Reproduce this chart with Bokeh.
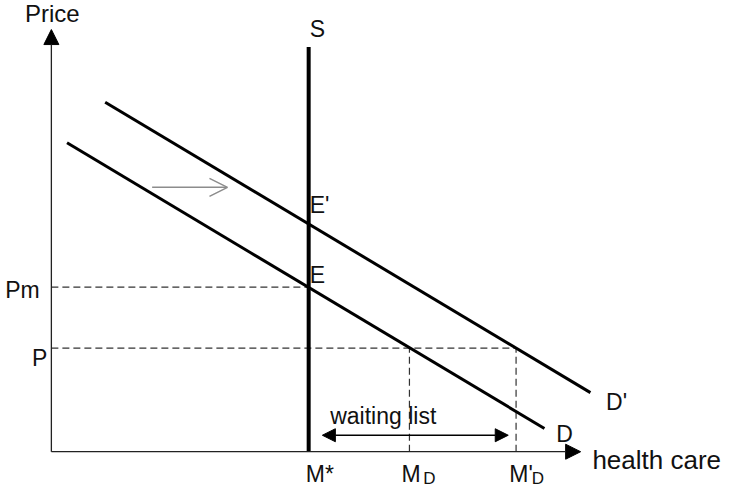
from bokeh.plotting import figure
from bokeh.models import Range1d, Arrow, NormalHead, OpenHead, Label
from bokeh.embed import file_html
from bokeh.resources import INLINE

# ---- data (quantity of health care, price) ----
demand_q = [16, 504]
demand_p = [319, 24]
demand2_q = [55, 551]
demand2_p = [361, 61]
supply_q = 263
supply_top = 418
price_pm = 170
price_p = 107
m_d = 366
m_d2 = 475
axis_q_max = 541
axis_p_max = 436
shift_q = [103, 180]
shift_p = 273
wait_q = [277, 467]
wait_p = 17

# price at E' (D' meets S)
slope2 = (demand2_p[1] - demand2_p[0]) / (demand2_q[1] - demand2_q[0])
price_e2 = demand2_p[0] + slope2 * (supply_q - demand2_q[0])

FONT = "Liberation Sans"
FS = "23px"
LIFT = 8  # baseline correction

p = figure(width=722, height=488, x_range=Range1d(-52, 686), y_range=Range1d(-38, 466),
           output_backend="svg", toolbar_location=None, min_border=0,
           x_axis_type=None, y_axis_type=None)
p.grid.visible = False
p.outline_line_color = None
p.background_fill_color = "white"
p.border_fill_color = "white"

# dashed guide lines
dash = dict(line_color="#333333", line_width=1.2, line_dash="7 4")
p.line([0, supply_q], [price_pm, price_pm], **dash)
p.line([0, m_d2], [price_p, price_p], **dash)
p.line([m_d, m_d], [0, price_p], **dash)
p.line([m_d2, m_d2], [0, price_p], **dash)

# demand curves and supply
p.line(demand_q, demand_p, line_color="black", line_width=3)
p.line(demand2_q, demand2_p, line_color="black", line_width=3)
p.line([supply_q, supply_q], [0, supply_top], line_color="black", line_width=4)

# axes
p.add_layout(Arrow(x_start=0, y_start=0, x_end=0, y_end=axis_p_max,
                   line_color="#222222", line_width=1.3,
                   end=NormalHead(size=15, fill_color="black", line_color="black")))
p.add_layout(Arrow(x_start=0, y_start=0, x_end=axis_q_max, y_end=0,
                   line_color="#222222", line_width=1.3,
                   end=NormalHead(size=15, fill_color="black", line_color="black")))

# waiting list arrow
p.add_layout(Arrow(x_start=wait_q[0], y_start=wait_p, x_end=wait_q[1], y_end=wait_p,
                   line_color="black", line_width=1.5,
                   start=NormalHead(size=13, fill_color="black", line_color="black"),
                   end=NormalHead(size=13, fill_color="black", line_color="black")))

# shift arrow (gray)
p.add_layout(Arrow(x_start=shift_q[0], y_start=shift_p, x_end=shift_q[1], y_end=shift_p,
                   line_color="#8c8c8c", line_width=1.5,
                   end=OpenHead(size=18, line_color="#8c8c8c", line_width=1.5)))

# labels: text, anchor x, anchor y, dx, dy, align, size
labels = [
    ("Price", 0, axis_p_max, -27, 9, "left", "24px"),
    ("S", supply_q, supply_top, 1, 11, "left", FS),
    ("E'", supply_q, price_e2, 1, 12, "left", FS),
    ("E", supply_q, price_pm, 1, 4, "left", FS),
    ("Pm", 0, price_pm, -12, -11, "right", FS),
    ("P", 0, price_p, -4, -18, "right", FS),
    ("M*", supply_q, 0, -3, -31, "left", FS),
    ("M", m_d, 0, -8, -31, "left", FS),
    ("D", m_d, 0, 14, -36, "left", "17px"),
    ("M'", m_d2, 0, -7, -31, "left", FS),
    ("D", m_d2, 0, 16, -36, "left", "17px"),
    ("waiting list", wait_q[0], wait_p, 8, 12, "left", FS),
    ("D", demand_q[1], demand_p[1], 12, -14, "left", FS),
    ("D'", demand2_q[1], demand2_p[1], 16, -18, "left", FS),
    ("health care", axis_q_max, 0, 12, -17, "left", "26px"),
]
for txt, ax, ay, dx, dy, al, fs in labels:
    p.add_layout(Label(x=ax + dx, y=ay + dy + LIFT, text=txt, text_font=FONT,
                       text_font_size=fs, text_align=al, text_baseline="alphabetic",
                       text_color="#111111"))

open("out.html", "w").write(file_html(p, INLINE))
